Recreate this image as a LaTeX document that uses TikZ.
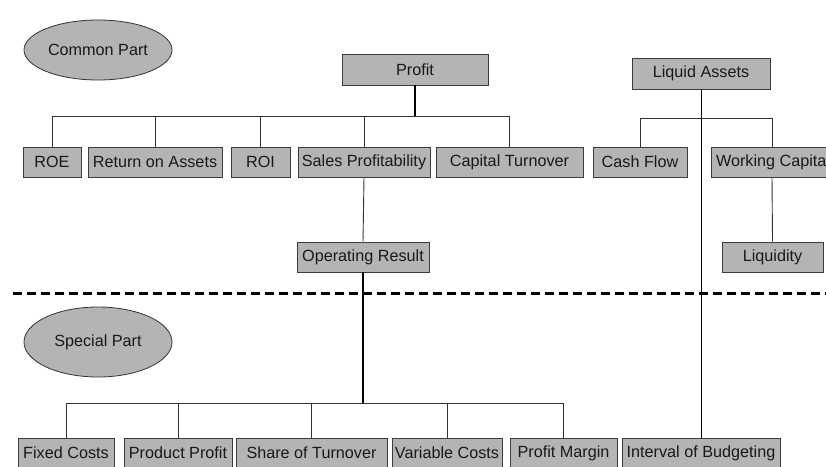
\documentclass[tikz,border=0pt]{standalone}
\usepackage{fontspec}
\setmainfont{Liberation Sans}
\usetikzlibrary{shapes.geometric}
\definecolor{boxgray}{RGB}{180,180,180}
\definecolor{edgegray}{RGB}{60,60,60}
\begin{document}
\begin{tikzpicture}[x=1pt,y=-1pt,
  kbox/.style={draw=edgegray,fill=boxgray,line width=0.9pt,inner sep=0pt,
    minimum height=30pt,font=\fontsize{16.2}{19}\selectfont,text=black!90},
  part/.style={ellipse,draw=black!80,fill=boxgray,line width=0.8pt,inner sep=0pt,
    minimum width=148pt,font=\fontsize{16.2}{19}\selectfont,text=black!90},
  conn/.style={draw=black!80,line width=0.9pt},
  stem/.style={draw=black,line width=2pt},
  divider/.style={draw=black,line width=3pt,dash pattern=on 9pt off 5pt}]
\useasboundingbox (0,0) rectangle (826,466);
\begin{scope}
\clip (0,0) rectangle (826,466);

% section labels
\node[part,minimum height=60pt] (common) at (98,50) {Common Part};
\node[part,minimum height=70pt] (special) at (98,342) {Special Part};

% divider between common and special part
\coordinate (divL) at (13,293);
\coordinate (divR) at (830,293);
\draw[divider] (divL) -- (divR);

% top level
\node[kbox,minimum width=146pt,minimum height=31pt] (profit) at (415,69.5) {Profit};
\node[kbox,minimum width=138pt,minimum height=31pt] (liquid) at (701,73.5) {Liquid Assets};

% second level
\node[kbox,minimum width=58pt]  (roe)     at (52,162)    {ROE};
\node[kbox,minimum width=134pt] (roa)     at (155,162)   {Return on Assets};
\node[kbox,minimum width=59pt]  (roi)     at (260.5,162) {ROI};
\node[kbox,minimum width=132pt] (sales)   at (364,162)   {Sales Profitability};
\node[kbox,minimum width=147pt] (capital) at (509.5,162) {Capital Turnover};
\node[kbox,minimum width=94pt]  (cash)    at (640,162)   {Cash Flow};
\node[kbox,minimum width=122pt] (working) at (772,162)   {\makebox[118pt][l]{\hspace{3pt}Working Capital}};

% third level
\node[kbox,minimum width=132pt] (operating) at (363,257)   {Operating Result};
\node[kbox,minimum width=101pt] (liquidity) at (772.5,257) {Liquidity};

% special part
\node[kbox,minimum width=96pt]  (fixed)    at (66,453)    {Fixed Costs};
\node[kbox,minimum width=108pt] (product)  at (178,453)   {Product Profit};
\node[kbox,minimum width=151pt] (share)    at (311.5,453) {Share of Turnover};
\node[kbox,minimum width=110pt] (variable) at (447,453)   {Variable Costs};
\node[kbox,minimum width=107pt] (margin)   at (563.5,453) {Profit Margin};
\node[kbox,minimum width=158pt] (interval) at (701,453)   {Interval of Budgeting};

% profit tree
\coordinate (pbus) at (415,116);
\draw[stem] (profit.south) -- (pbus);
\foreach \c in {roe,roa,roi,sales,capital}
  \draw[conn] (pbus) -| (\c.north);

% liquid assets tree
\coordinate (lbus) at (701,118);
\draw[conn,draw=black] (liquid.south) -- (interval.north);
\foreach \c in {cash,working}
  \draw[conn] (lbus) -| (\c.north);
\draw[conn] (working.south) -- (liquidity.north);

% sales profitability branch
\draw[conn] (sales.south) -- (operating.north);
\coordinate (obus) at (363,403);
\draw[stem] (operating.south) -- (obus);
\foreach \c in {fixed,product,share,variable,margin}
  \draw[conn] (obus) -| (\c.north);
\end{scope}
\end{tikzpicture}
\end{document}
